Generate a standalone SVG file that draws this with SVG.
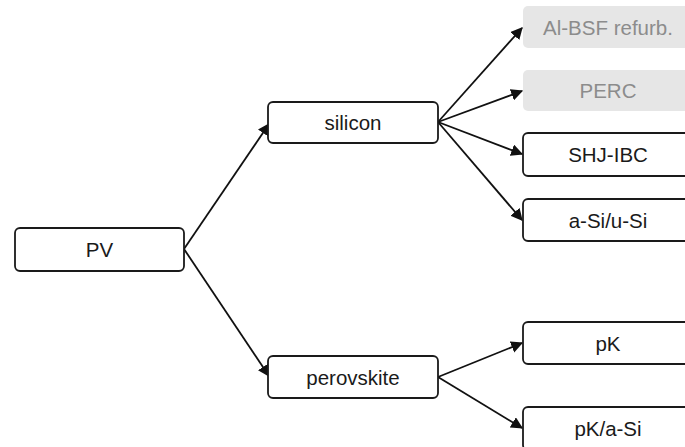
<svg xmlns="http://www.w3.org/2000/svg" width="685" height="447" viewBox="0 0 685 447">
  <style>
    .box { fill: #ffffff; stroke: #1a1a1a; stroke-width: 1.8; }
    .ghost { fill: #e6e6e6; stroke: none; }
    .lbl { font-family: "Liberation Sans", Arial, sans-serif; font-size: 20.5px; fill: #1a1a1a; text-anchor: middle; dominant-baseline: central; }
    .ghost-lbl { fill: #8c8c8c; }
    .edge { fill: none; stroke: #111111; stroke-width: 1.8; marker-end: url(#arrow); }
  </style>
  <defs>
    <marker id="arrow" viewBox="0 0 10 10" refX="9" refY="5" markerWidth="12" markerHeight="12" markerUnits="userSpaceOnUse" orient="auto">
      <path d="M0,0 L10,5 L0,10 z" fill="#111111"/>
    </marker>
  </defs>
  <rect width="685" height="447" fill="#ffffff"/>

  <g id="connectors">
    <line class="edge" x1="184" y1="249" x2="269" y2="124"/>
    <line class="edge" x1="184" y1="249" x2="269" y2="376"/>
    <line class="edge" x1="438" y1="122" x2="522" y2="28"/>
    <line class="edge" x1="438" y1="122" x2="522" y2="91"/>
    <line class="edge" x1="438" y1="122" x2="522" y2="154"/>
    <line class="edge" x1="438" y1="122" x2="522" y2="220"/>
    <line class="edge" x1="438" y1="377" x2="522" y2="343"/>
    <line class="edge" x1="438" y1="377" x2="522" y2="428"/>
  </g>

  <g id="pv">
    <rect class="box" x="15" y="228" width="169" height="43" rx="5"/>
    <text class="lbl" x="99.5" y="249.5">PV</text>
  </g>
  <g id="silicon">
    <rect class="box" x="268" y="102" width="170" height="41" rx="5"/>
    <text class="lbl" x="353" y="122.5">silicon</text>
  </g>
  <g id="perovskite">
    <rect class="box" x="268" y="356" width="170" height="42" rx="5"/>
    <text class="lbl" x="353" y="377">perovskite</text>
  </g>
  <g id="al-bsf">
    <rect class="ghost" x="523" y="6" width="170" height="42" rx="5"/>
    <text class="lbl ghost-lbl" x="608" y="27">Al-BSF refurb.</text>
  </g>
  <g id="perc">
    <rect class="ghost" x="523" y="70" width="170" height="41" rx="5"/>
    <text class="lbl ghost-lbl" x="608" y="90.5">PERC</text>
  </g>
  <g id="shj-ibc">
    <rect class="box" x="523" y="133" width="170" height="43" rx="5"/>
    <text class="lbl" x="608" y="154.5">SHJ-IBC</text>
  </g>
  <g id="a-si-u-si">
    <rect class="box" x="523" y="199" width="170" height="42" rx="5"/>
    <text class="lbl" x="608" y="220">a-Si/u-Si</text>
  </g>
  <g id="pk">
    <rect class="box" x="523" y="322" width="170" height="42" rx="5"/>
    <text class="lbl" x="608" y="343">pK</text>
  </g>
  <g id="pk-a-si">
    <rect class="box" x="523" y="407" width="170" height="43" rx="5"/>
    <text class="lbl" x="608" y="428.5">pK/a-Si</text>
  </g>
</svg>
